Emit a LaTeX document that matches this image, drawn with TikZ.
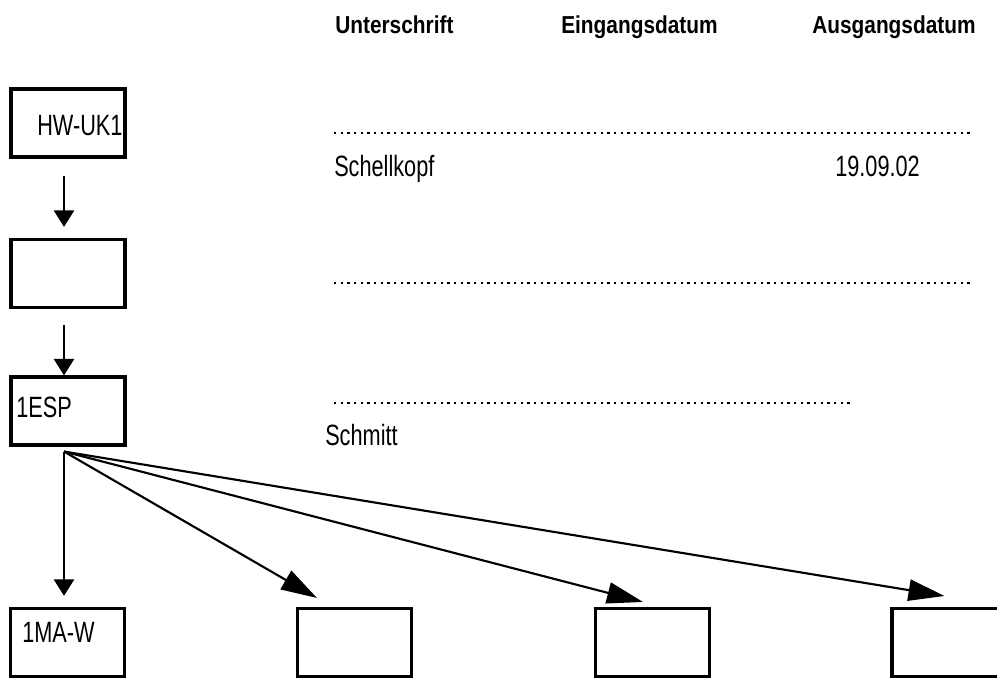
\documentclass[tikz,border=0pt]{standalone}
\usepackage{fontspec}
\setmainfont{Liberation Sans}
\newfontfamily\regf[FakeStretch=0.74]{Liberation Sans}
\newfontfamily\hdf[FakeStretch=0.85]{Liberation Sans}
\usetikzlibrary{arrows.meta,calc}
\begin{document}
\begin{tikzpicture}[x=0.75pt,y=-0.75pt,
  box/.style={draw, line width=2.3pt, rectangle, inner sep=0pt, minimum width=85.5pt, minimum height=51pt},
  tx/.style={inner sep=0pt, anchor=base west, font=\regf\fontsize{22pt}{26pt}\selectfont},
  hd/.style={inner sep=0pt, anchor=base west, font=\hdf\bfseries\fontsize{18.4pt}{22pt}\selectfont},
  varr/.style={line width=2.1pt, -{Triangle[length=12.5pt,width=15pt]}},
  farr/.style={line width=1.6pt, -{Triangle[length=27pt,width=16pt]}},
  dotline/.style={line width=1.7pt, dash pattern=on 1.7pt off 3.3pt}]
\useasboundingbox (0,0) rectangle (997,679);
\fill[white] (0,0) rectangle (997,679);

% headers
\node[hd] (h1) at (335,33) {Unterschrift};
\node[hd] (h2) at (561,33) {Eingangsdatum};
\node[hd] (h3) at (812,33) {Ausgangsdatum};

% dotted signature lines
\draw[dotline] (334,133) -- (972,133);
\draw[dotline] (334,283) -- (972,283);
\draw[dotline] (334,403) -- (850,403);

% entries
\node[tx] (s1) at (334,176) {Schellkopf};
\node[tx] (d1) at (835,176) {19.09.02};
\node[tx] (s3) at (325,445) {Schmitt};

% boxes
\node[box] (b1) at (68,123) {};
\node[box] (b2) at (68,273.5) {};
\node[box] (b3) at (68,411) {};
\node[box] (b4) at (67.5,642.5) {};
\node[box] (b5) at (354.5,642.5) {};
\node[box] (b6) at (652.5,642.5) {};
\node[box] (b7) at (949,642.5) {};

% box texts
\node[tx] (t1) at (37,135) {HW-UK1};
\node[tx] (t3) at (16,417) {1ESP};
\node[tx] (t4) at (22,642) {1MA-W};

% connectors
\draw[varr] ($(b1.south)+(-4,17)$) -- ($(b2.north)+(-4,-11)$);
\draw[varr] ($(b2.south)+(-4,16)$) -- ($(b3.north)+(-4,0)$);
\coordinate (fan) at ($(b3.south)+(-4,5)$);
\draw[varr] (fan) -- ($(b4.north)+(-3.5,-11)$);
\draw[farr] (fan) -- ($(b5.north west)+(21,-9)$);
\draw[farr] (fan) -- ($(b6.north west)+(49,-5)$);
\draw[farr] (fan) -- ($(b7.north west)+(54,-11)$);
\end{tikzpicture}
\end{document}
